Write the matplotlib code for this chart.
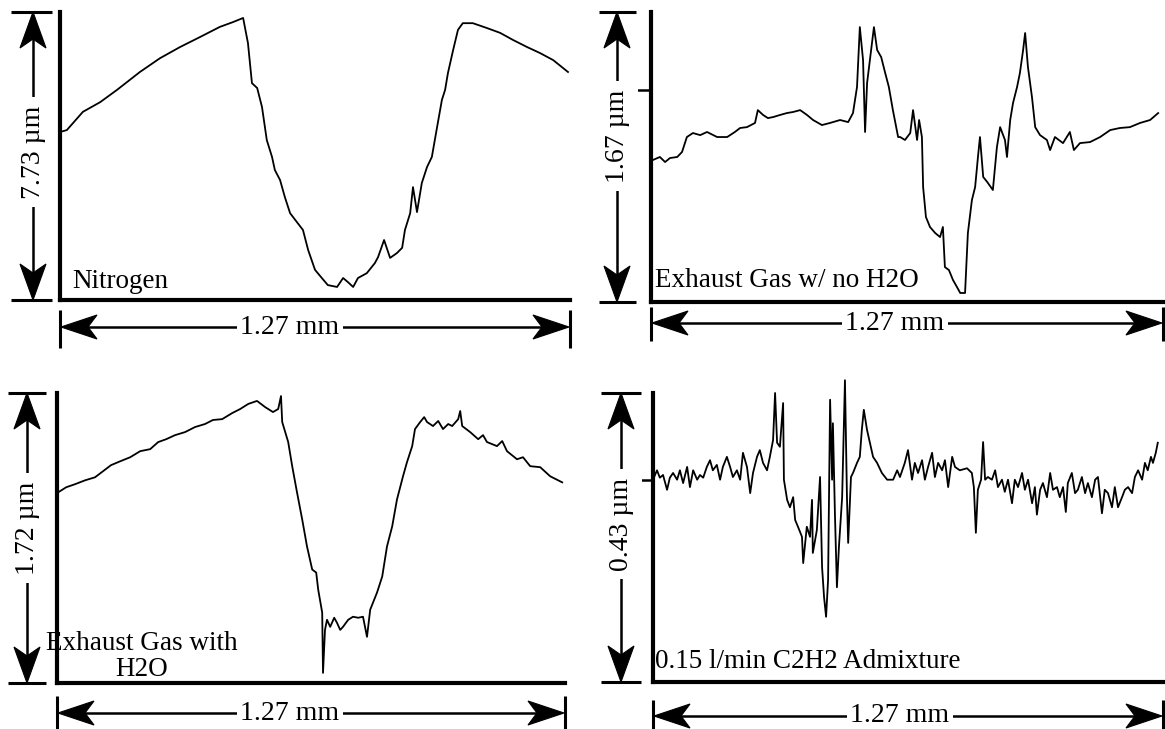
import matplotlib
matplotlib.use("Agg")
import matplotlib.pyplot as plt
from matplotlib.patches import Polygon
from matplotlib.lines import Line2D

plt.rcParams['font.family'] = ['Liberation Serif', 'DejaVu Serif']

# ---- data (x in mm, y in um) ----
n2_x = [0.000, 0.017, 0.057, 0.100, 0.142, 0.199, 0.249, 0.299, 0.349, 0.398, 0.431, 0.456,
        0.468, 0.478, 0.491, 0.503, 0.515, 0.528, 0.535, 0.548, 0.560, 0.573, 0.590, 0.605,
        0.618, 0.635, 0.652, 0.667, 0.690, 0.705, 0.717, 0.730, 0.742, 0.764, 0.784, 0.792,
        0.807, 0.822, 0.839, 0.852, 0.859, 0.872, 0.879, 0.889, 0.901, 0.914, 0.926, 0.939,
        0.951, 0.959, 0.966, 0.979, 0.991, 1.003, 1.028, 1.063, 1.096, 1.128, 1.163, 1.195,
        1.228, 1.265]
n2_y = [4.51, 4.56, 5.05, 5.31, 5.64, 6.12, 6.49, 6.79, 7.06, 7.33, 7.46, 7.57,
        6.90, 5.82, 5.69, 5.18, 4.29, 3.84, 3.49, 3.22, 2.76, 2.33, 2.09, 1.88,
        1.34, 0.81, 0.59, 0.40, 0.35, 0.59, 0.48, 0.35, 0.59, 0.72, 0.99, 1.15,
        1.61, 1.13, 1.26, 1.40, 1.88, 2.33, 3.03, 2.36, 3.14, 3.57, 3.84, 4.64,
        5.37, 5.64, 6.09, 6.71, 7.25, 7.43, 7.43, 7.30, 7.17, 6.98, 6.79, 6.63,
        6.44, 6.12]

dry_x = [0.005, 0.022, 0.035, 0.047, 0.065, 0.077, 0.089, 0.104, 0.122, 0.139, 0.164, 0.189,
         0.208, 0.221, 0.238, 0.258, 0.265, 0.278, 0.290, 0.303, 0.320, 0.337, 0.352, 0.370,
         0.387, 0.402, 0.424, 0.444, 0.469, 0.489, 0.501, 0.511, 0.518, 0.526, 0.531, 0.536,
         0.546, 0.553, 0.561, 0.571, 0.581, 0.590, 0.600, 0.613, 0.618, 0.630, 0.643, 0.650,
         0.660, 0.665, 0.672, 0.675, 0.682, 0.692, 0.705, 0.717, 0.724, 0.729, 0.739, 0.749,
         0.759, 0.767, 0.779, 0.786, 0.796, 0.804, 0.811, 0.816, 0.824, 0.834, 0.848, 0.858,
         0.866, 0.878, 0.883, 0.891, 0.898, 0.908, 0.915, 0.923, 0.928, 0.935, 0.945, 0.953,
         0.965, 0.982, 0.990, 1.002, 1.022, 1.039, 1.049, 1.064, 1.089, 1.114, 1.139, 1.163,
         1.188, 1.213, 1.238, 1.258]
dry_y = [0.818, 0.835, 0.806, 0.829, 0.835, 0.864, 0.950, 0.973, 0.961, 0.979, 0.950, 0.950,
         0.979, 1.002, 1.007, 1.031, 1.105, 1.077, 1.059, 1.065, 1.077, 1.088, 1.094, 1.105,
         1.077, 1.048, 1.019, 1.031, 1.048, 1.036, 1.088, 1.238, 1.583, 1.393, 0.979, 1.261,
         1.451, 1.583, 1.451, 1.410, 1.318, 1.238, 1.105, 0.950, 0.950, 0.933, 0.973, 1.105,
         0.933, 1.048, 0.950, 0.662, 0.489, 0.432, 0.397, 0.374, 0.432, 0.201, 0.184, 0.127,
         0.086, 0.052, 0.052, 0.397, 0.587, 0.662, 0.835, 0.950, 0.720, 0.691, 0.645, 0.892,
         1.007, 0.933, 0.835, 1.048, 1.146, 1.238, 1.318, 1.451, 1.549, 1.353, 1.180, 1.007,
         0.961, 0.933, 0.875, 0.950, 0.915, 0.979, 0.875, 0.915, 0.921, 0.950, 0.990, 1.002,
         1.007, 1.031, 1.048, 1.088]

wet_x = [0.003, 0.023, 0.045, 0.070, 0.095, 0.115, 0.135, 0.158, 0.183, 0.208, 0.233, 0.253,
         0.273, 0.295, 0.320, 0.345, 0.370, 0.390, 0.413, 0.438, 0.458, 0.478, 0.500, 0.520,
         0.540, 0.553, 0.560, 0.563, 0.578, 0.588, 0.600, 0.613, 0.625, 0.638, 0.648, 0.653,
         0.663, 0.665, 0.670, 0.675, 0.683, 0.693, 0.700, 0.708, 0.715, 0.728, 0.740, 0.753,
         0.765, 0.775, 0.783, 0.800, 0.813, 0.825, 0.838, 0.850, 0.865, 0.875, 0.888, 0.895,
         0.908, 0.918, 0.925, 0.940, 0.953, 0.965, 0.978, 0.988, 1.003, 1.008, 1.013, 1.033,
         1.053, 1.065, 1.075, 1.100, 1.113, 1.125, 1.150, 1.165, 1.183, 1.208, 1.233, 1.263]
wet_y = [1.131, 1.161, 1.179, 1.202, 1.220, 1.256, 1.292, 1.315, 1.339, 1.375, 1.387, 1.429,
         1.446, 1.470, 1.488, 1.518, 1.536, 1.560, 1.565, 1.601, 1.625, 1.655, 1.673, 1.637,
         1.607, 1.625, 1.702, 1.548, 1.429, 1.286, 1.131, 0.970, 0.810, 0.673, 0.655, 0.554,
         0.417, 0.060, 0.315, 0.375, 0.333, 0.387, 0.357, 0.315, 0.333, 0.375, 0.393, 0.387,
         0.393, 0.274, 0.435, 0.536, 0.631, 0.810, 0.929, 1.089, 1.226, 1.310, 1.405, 1.506,
         1.548, 1.577, 1.548, 1.524, 1.554, 1.506, 1.536, 1.524, 1.565, 1.613, 1.524, 1.488,
         1.446, 1.470, 1.429, 1.405, 1.435, 1.375, 1.327, 1.339, 1.286, 1.280, 1.226, 1.190]

c2h2_x = [0.000, 0.010, 0.017, 0.025, 0.035, 0.042, 0.050, 0.060, 0.067, 0.075, 0.085, 0.092,
          0.100, 0.110, 0.117, 0.125, 0.134, 0.142, 0.149, 0.159, 0.167, 0.174, 0.184, 0.192,
          0.199, 0.209, 0.217, 0.224, 0.234, 0.242, 0.249, 0.259, 0.266, 0.274, 0.284, 0.291,
          0.299, 0.304, 0.309, 0.316, 0.324, 0.326, 0.334, 0.341, 0.349, 0.354, 0.361, 0.371,
          0.374, 0.383, 0.391, 0.396, 0.398, 0.408, 0.416, 0.421, 0.426, 0.431, 0.436, 0.441,
          0.446, 0.448, 0.453, 0.458, 0.463, 0.471, 0.473, 0.478, 0.483, 0.486, 0.493, 0.498,
          0.508, 0.515, 0.520, 0.525, 0.533, 0.540, 0.548, 0.558, 0.570, 0.583, 0.598, 0.608,
          0.615, 0.627, 0.635, 0.645, 0.652, 0.660, 0.670, 0.677, 0.685, 0.695, 0.702, 0.710,
          0.720, 0.727, 0.735, 0.745, 0.752, 0.764, 0.782, 0.794, 0.799, 0.804, 0.809, 0.817,
          0.822, 0.827, 0.834, 0.844, 0.852, 0.859, 0.869, 0.876, 0.884, 0.894, 0.901, 0.909,
          0.919, 0.926, 0.934, 0.944, 0.951, 0.956, 0.964, 0.971, 0.981, 0.989, 0.996, 1.006,
          1.013, 1.021, 1.028, 1.033, 1.043, 1.051, 1.058, 1.068, 1.076, 1.083, 1.093, 1.101,
          1.108, 1.118, 1.125, 1.133, 1.143, 1.150, 1.158, 1.168, 1.175, 1.183, 1.193, 1.200,
          1.208, 1.218, 1.225, 1.232, 1.240, 1.245, 1.252, 1.257]
c2h2_y = [0.301, 0.315, 0.304, 0.308, 0.286, 0.304, 0.311, 0.301, 0.315, 0.296, 0.320, 0.290,
          0.315, 0.301, 0.308, 0.304, 0.320, 0.330, 0.315, 0.323, 0.301, 0.320, 0.335, 0.320,
          0.305, 0.315, 0.301, 0.341, 0.320, 0.281, 0.311, 0.335, 0.345, 0.326, 0.315, 0.335,
          0.360, 0.430, 0.356, 0.350, 0.415, 0.301, 0.271, 0.260, 0.275, 0.241, 0.231, 0.216,
          0.177, 0.231, 0.216, 0.271, 0.192, 0.226, 0.305, 0.171, 0.126, 0.097, 0.152, 0.420,
          0.301, 0.385, 0.251, 0.141, 0.201, 0.275, 0.326, 0.449, 0.275, 0.207, 0.305, 0.311,
          0.326, 0.335, 0.375, 0.405, 0.375, 0.356, 0.335, 0.326, 0.311, 0.301, 0.301, 0.315,
          0.305, 0.326, 0.345, 0.301, 0.326, 0.311, 0.330, 0.301, 0.320, 0.341, 0.305, 0.326,
          0.315, 0.330, 0.290, 0.335, 0.320, 0.315, 0.318, 0.311, 0.290, 0.222, 0.286, 0.301,
          0.357, 0.301, 0.305, 0.301, 0.315, 0.290, 0.301, 0.283, 0.301, 0.266, 0.301, 0.290,
          0.311, 0.286, 0.301, 0.266, 0.290, 0.249, 0.286, 0.296, 0.275, 0.311, 0.286, 0.290,
          0.275, 0.290, 0.253, 0.296, 0.311, 0.281, 0.286, 0.305, 0.281, 0.296, 0.275, 0.301,
          0.305, 0.251, 0.286, 0.281, 0.260, 0.290, 0.260, 0.275, 0.286, 0.290, 0.281, 0.305,
          0.315, 0.301, 0.326, 0.315, 0.335, 0.326, 0.341, 0.356]

width_mm = 1.27
heights = [7.73, 1.67, 1.72, 0.43]
height_labels = ['7.73 \u00b5m', '1.67 \u00b5m', '1.72 \u00b5m', '0.43 \u00b5m']
width_label = '1.27 mm'
names = ['Nitrogen', 'Exhaust Gas w/ no H2O', 'Exhaust Gas with\nH2O',
         '0.15 l/min C2H2 Admixture']
series = [(n2_x, n2_y), (dry_x, dry_y), (wet_x, wet_y), (c2h2_x, c2h2_y)]

# ---- layout in pixels of the 1165x729 canvas ----
W, H = 1165, 729
fig = plt.figure(figsize=(W / 100, H / 100), dpi=100)


def fx(px):
    return px / W


def fy(py):
    return 1 - py / H


def line(xs, ys, lw=1.8):
    fig.add_artist(Line2D([fx(v) for v in xs], [fy(v) for v in ys], color='black',
                          lw=lw, solid_capstyle='butt'))


def head(tip, direction, length=36, half=13, notch=27):
    # stealth style arrow head, direction is a unit vector pointing to the tip
    tx, ty = tip
    dx, dy = direction
    px, py = -dy, dx
    bx, by = tx - dx * length, ty - dy * length
    nx, ny = tx - dx * notch, ty - dy * notch
    pts = [(tx, ty), (bx + px * half, by + py * half), (nx, ny), (bx - px * half, by - py * half)]
    fig.add_artist(Polygon([(fx(a), fy(b)) for a, b in pts], closed=True,
                           transform=fig.transFigure, facecolor='black', edgecolor='black', lw=0.8))


# x0, x1, ytop, ybottom of each plot box
boxes = [(60, 570, 12, 300), (651, 1163, 12, 302), (57, 565, 393, 683), (653, 1163, 393, 682)]
# vertical arrow: x, bar left, bar right, label centre y
vspec = [(33, 11, 52, 152), (617, 599, 636, 136), (27, 8, 46, 528), (621, 601, 641, 524)]
# horizontal arrow: y, bar top, bar bottom, label centre x
hspec = [(327, 310, 348, 290), (323, 307, 341, 895), (713, 696, 729, 290), (716, 700, 729, 900)]
# inside label: x, y, ha
tspec = [(72, 288, 'left'), (655, 287, 'left'), (142, 676, 'center'), (655, 668, 'left')]

FS = 20
FS_NAME = 19.5

for i in range(4):
    x0, x1, yt, yb = boxes[i]
    ax = fig.add_axes([fx(x0), fy(yb), (x1 - x0) / W, (yb - yt) / H])
    xs, ys = series[i]
    ax.plot(xs, ys, color='black', lw=1.3, clip_on=False)
    ax.set_xlim(0, width_mm)
    ax.set_ylim(0, heights[i])
    for s in ['top', 'right']:
        ax.spines[s].set_visible(False)
    for s in ['left', 'bottom']:
        ax.spines[s].set_linewidth(3)
    ax.set_xticks([])
    ax.set_yticks([])
    ax.patch.set_alpha(0)

    # vertical dimension arrow
    vx, bl, br, ly = vspec[i]
    line([bl, br], [yt, yt], lw=2.2)
    line([bl, br], [yb, yb], lw=2.2)
    line([vx, vx], [yt + 25, yb - 25])
    head((vx, yt), (0, -1))
    head((vx, yb), (0, 1))
    fig.text(fx(vx), fy(ly), height_labels[i], rotation=90, ha='center', va='center',
             fontsize=FS, bbox=dict(facecolor='white', edgecolor='none', pad=6))

    # horizontal dimension arrow
    hy, bt, bb, lx = hspec[i]
    line([x0, x0], [bt, bb], lw=2.2)
    line([x1, x1], [bt, bb], lw=2.2)
    line([x0 + 25, x1 - 25], [hy, hy])
    head((x0 + 1, hy), (-1, 0), half=12)
    head((x1 - 1, hy), (1, 0), half=12)
    fig.text(fx(lx), fy(hy), width_label, ha='center', va='center', fontsize=FS,
             bbox=dict(facecolor='white', edgecolor='none', pad=2.5))

    tx, ty, ha = tspec[i]
    fig.text(fx(tx), fy(ty), names[i], ha=ha, va='baseline', fontsize=FS_NAME,
             multialignment='center', linespacing=1.05)

# short ticks joining the upper label to the plot box
line([617, 651], [90, 90])
line([621, 653], [480, 480])

fig.savefig('out.png', dpi=100, facecolor='white')
